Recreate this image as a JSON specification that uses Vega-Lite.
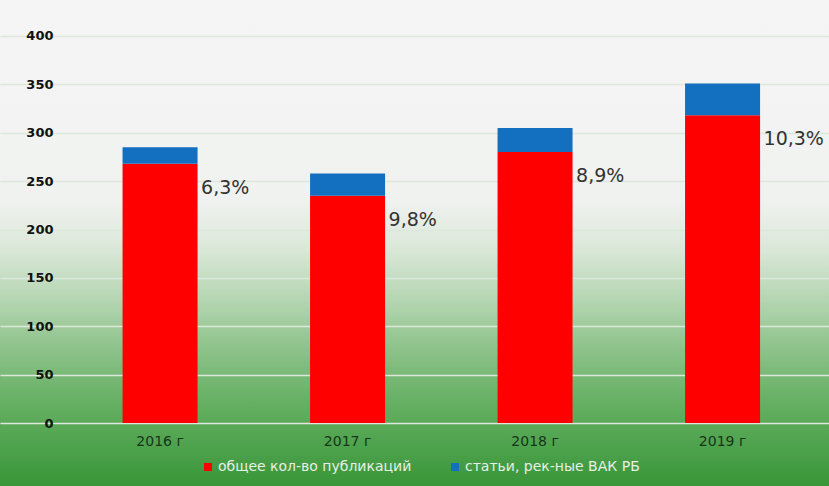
{
  "$schema": "https://vega.github.io/schema/vega-lite/v6.json",
  "width": 829,
  "height": 486,
  "autosize": "none",
  "padding": 0,
  "background": "#f4f4f4",
  "config": {
    "view": {
      "stroke": null,
      "fill": {
        "gradient": "linear",
        "x1": 0, "y1": 0, "x2": 0, "y2": 1,
        "stops": [
          {"offset": 0, "color": "#f5f5f5"},
          {"offset": 0.41, "color": "#f0f2f0"},
          {"offset": 0.51, "color": "#dbe8d9"},
          {"offset": 0.62, "color": "#b3d5b0"},
          {"offset": 0.72, "color": "#8cc289"},
          {"offset": 0.82, "color": "#68b165"},
          {"offset": 1, "color": "#389638"}
        ]
      }
    },
    "font": "DejaVu Sans"
  },
  "data": {
    "values": [
      {"year": "2016 г", "series": "общее кол-во публикаций", "value": 268, "pct": "6,3%"},
      {"year": "2016 г", "series": "статьи, рек-ные ВАК РБ", "value": 17},
      {"year": "2017 г", "series": "общее кол-во публикаций", "value": 235, "pct": "9,8%"},
      {"year": "2017 г", "series": "статьи, рек-ные ВАК РБ", "value": 23},
      {"year": "2018 г", "series": "общее кол-во публикаций", "value": 280, "pct": "8,9%"},
      {"year": "2018 г", "series": "статьи, рек-ные ВАК РБ", "value": 25},
      {"year": "2019 г", "series": "общее кол-во публикаций", "value": 318, "pct": "10,3%"},
      {"year": "2019 г", "series": "статьи, рек-ные ВАК РБ", "value": 33}
    ]
  },
  "encoding": {
    "x": {
      "field": "year",
      "type": "nominal",
      "sort": null,
      "scale": {"paddingInner": 0.6, "paddingOuter": 0.51067, "align": 0.64},
      "axis": {
        "title": null,
        "orient": "bottom",
        "offset": -54,
        "labelPadding": 2,
        "ticks": false,
        "tickSize": 0,
        "domain": false,
        "labelAngle": 0,
        "labelFontSize": 14,
        "labelColor": "#17351a",
        "labelFont": "DejaVu Sans"
      }
    }
  },
  "layer": [
    {
      "mark": {"type": "bar", "cornerRadius": 0},
      "encoding": {
        "y": {
          "field": "value",
          "type": "quantitative",
          "stack": "zero",
          "scale": {"domain": [-65.1, 437.2], "nice": false, "zero": false},
          "axis": {
            "title": null,
            "orient": "left",
            "offset": -55,
            "values": [0, 50, 100, 150, 200, 250, 300, 350, 400],
            "grid": true,
            "gridColor": "#dde8dc",
            "gridWidth": 1.5,
            "ticks": false,
            "tickSize": 0,
            "domain": false,
            "labelPadding": 2,
            "labelFontSize": 13,
            "labelFontWeight": "bold",
            "labelColor": "#111111",
            "labelFont": "DejaVu Sans"
          }
        },
        "color": {
          "field": "series",
          "type": "nominal",
          "scale": {
            "domain": ["общее кол-во публикаций", "статьи, рек-ные ВАК РБ"],
            "range": ["#ff0000", "#136fc0"]
          },
          "legend": {
            "title": null,
            "orient": "none",
            "direction": "horizontal",
            "legendX": 201,
            "legendY": 460,
            "symbolType": "square",
            "symbolSize": 64,
            "symbolStrokeWidth": 0,
            "labelFontSize": 14,
            "labelLimit": 0,
            "labelColor": "#e6f0e6",
            "labelFont": "DejaVu Sans",
            "labelOffset": 3,
            "columnPadding": 36
          }
        },
        "order": {"field": "series", "sort": "ascending"}
      }
    },
    {
      "transform": [{"filter": "isValid(datum.pct)"}],
      "mark": {
        "type": "text",
        "align": "left",
        "baseline": "middle",
        "dx": 41,
        "dy": 24,
        "fontSize": 19,
        "color": "#333333",
        "font": "DejaVu Sans"
      },
      "encoding": {
        "y": {"field": "value", "type": "quantitative"},
        "text": {"field": "pct", "type": "nominal"}
      }
    }
  ]
}
